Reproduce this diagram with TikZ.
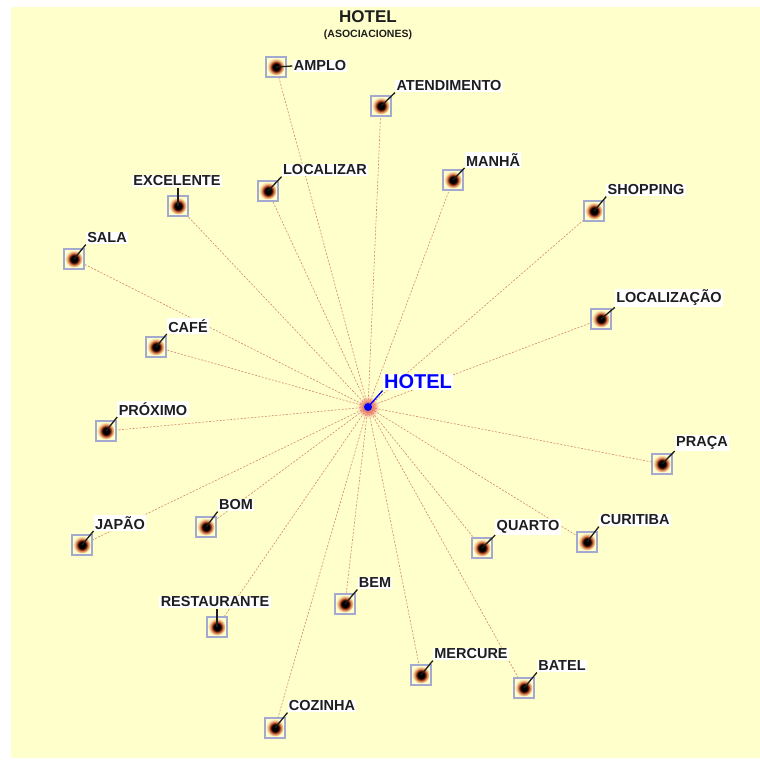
\documentclass[tikz,border=0pt]{standalone}
\usepackage{fontspec}
\setmainfont{Liberation Sans}
\definecolor{bg}{HTML}{FFFFCC}
\definecolor{boxline}{HTML}{A3A9CF}
\definecolor{conn}{HTML}{D4876E}
\definecolor{glowdark}{HTML}{6A1A0A}
\definecolor{glowmid}{HTML}{D9804A}
\definecolor{glowlight}{HTML}{F5DDB0}
\definecolor{txt}{HTML}{1E1E1E}
\definecolor{hubglow}{HTML}{F08070}
\pgfdeclareradialshading{dotglow}{\pgfpoint{0bp}{0bp}}{color(0bp)=(black); color(8bp)=(black); color(11bp)=(glowdark); color(15bp)=(glowmid); color(20bp)=(glowlight); color(25bp)=(bg); color(50bp)=(bg)}
\pgfdeclareradialshading{hubshade}{\pgfpoint{0bp}{0bp}}{color(0bp)=(hubglow); color(12bp)=(hubglow); color(25bp)=(bg); color(50bp)=(bg)}
\pgfdeclarelayer{background}
\pgfsetlayers{background,main}
\tikzset{
  wbox/.style={draw=boxline, line width=1.2pt, fill=bg, rectangle, minimum size=20pt, inner sep=0pt,
    path picture={\shade[shading=dotglow] (path picture bounding box.center) circle (8.5pt);}},
  lbl/.style={font=\bfseries\fontsize{14.5}{14.5}\selectfont, fill=white, text=txt, inner sep=1.3pt},
  connline/.style={draw=conn, dash pattern=on 2pt off 1.5pt, line width=0.6pt},
  ptr/.style={draw=txt, line width=1.3pt}
}
\begin{document}
\begin{tikzpicture}[x=1pt,y=-1pt]
\useasboundingbox (0,0) rectangle (760,760);
% title
\node[font=\bfseries\fontsize{17}{17}\selectfont, text=txt] (title) at (368,17) {HOTEL};
\node[font=\bfseries\fontsize{10.5}{10.5}\selectfont, text=txt] (subtitle) at (368,35) {(ASOCIACIONES)};
% hub
\node[circle, fill=blue, inner sep=0pt, minimum size=8pt] (hub) at (368,407) {};
\node[lbl, text=blue, font=\bfseries\fontsize{20}{20}\selectfont] (t-hub) at (418,382) {HOTEL};
\draw[draw=blue, line width=1.3pt] (hub.center) -- (t-hub.south west);
% word nodes
\foreach \n/\x/\y/\lx/\ly/\t in {
  amplo/276/67/320/66/AMPLO,
  atend/381/106/449/86/ATENDIMENTO,
  manha/453/180/493/160/MANHÃ,
  localizar/268/191/325/170/LOCALIZAR,
  excelente/178/206/177/181/EXCELENTE,
  shopping/594/211/646/190/SHOPPING,
  sala/74/259/107/238/SALA,
  localizacao/601/319/669/298/LOCALIZAÇÃO,
  cafe/156/347/188/326/CAFÉ,
  proximo/106/431/153/409/PRÓXIMO,
  praca/662/464/702/443/PRAÇA,
  japao/82/545/120/523/JAPÃO,
  bom/206/527/236/505/BOM,
  quarto/482/548/528/527/QUARTO,
  curitiba/587/542/635/520/CURITIBA,
  restaurante/217/627/215/602/RESTAURANTE,
  bem/345/604/375/583/BEM,
  mercure/421/675/471/654/MERCURE,
  batel/524/688/562/666/BATEL,
  cozinha/275/728/322/706/COZINHA}{
  \node[wbox] (\n) at (\x,\y) {};
  \node[lbl] (t-\n) at (\lx,\ly) {\t};
}
% pointers
\foreach \n in {atend,manha,localizar,shopping,sala,localizacao,cafe,proximo,praca,japao,bom,quarto,curitiba,bem,mercure,batel,cozinha}{
  \draw[ptr] (\n.center) -- (t-\n.south west);
}
\draw[ptr] (amplo.center) -- (t-amplo.west);
\draw[ptr] (excelente.center) -- (excelente.center |- t-excelente.south);
\draw[ptr] (restaurante.center) -- (restaurante.center |- t-restaurante.south);
% connectors behind
\begin{pgfonlayer}{background}
\fill[bg] (11,7) rectangle (760,758);
\shade[shading=hubshade] (hub.center) circle (11pt);
\foreach \n in {amplo,atend,manha,localizar,excelente,shopping,sala,localizacao,cafe,proximo,praca,japao,bom,quarto,curitiba,restaurante,bem,mercure,batel,cozinha}{
  \draw[connline] (hub.center) -- (\n.center);
}
\end{pgfonlayer}
\end{tikzpicture}
\end{document}
